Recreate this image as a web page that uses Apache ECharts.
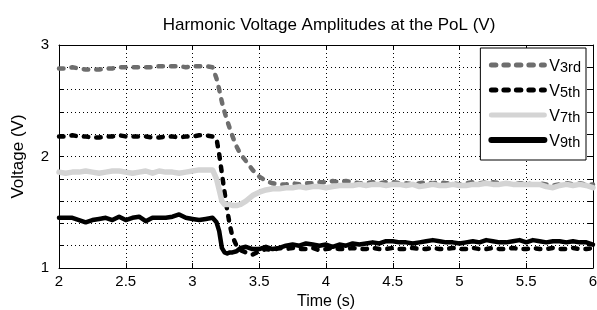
<!DOCTYPE html>
<html>
<head>
<meta charset="utf-8">
<script src="https://cdn.jsdelivr.net/npm/echarts@6/dist/echarts.min.js"></script>
<style>
html,body{margin:0;padding:0;background:#fff;}
#chart{width:597px;height:310px;}
</style>
</head>
<body>
<div id="chart"></div>
<script>
const timeS = [2.00,2.05,2.10,2.15,2.20,2.25,2.30,2.35,2.40,2.45,2.50,2.55,2.60,2.65,2.70,2.75,2.80,2.85,2.90,2.95,3.00,3.05,3.10,3.15,
  3.18,3.20,3.22,3.24,3.26,3.28,3.30,3.33,3.36,3.40,3.45,
  3.50,3.55,3.60,3.65,3.70,3.75,3.80,3.85,3.90,3.95,4.00,4.05,4.10,4.15,4.20,4.25,4.30,4.35,4.40,4.45,4.50,4.55,4.60,4.65,4.70,4.75,4.80,4.85,4.90,4.95,
  5.00,5.05,5.10,5.15,5.20,5.25,5.30,5.35,5.40,5.45,5.50,5.55,5.60,5.65,5.70,5.75,5.80,5.85,5.90,5.95,6.00];

const v3rd = [2.79,2.79,2.80,2.79,2.78,2.78,2.78,2.79,2.79,2.80,2.80,2.80,2.80,2.80,2.80,2.81,2.81,2.81,2.81,2.80,2.81,2.81,2.81,2.80,
  2.70,2.60,2.49,2.40,2.32,2.25,2.18,2.09,2.02,1.96,1.88,
  1.82,1.78,1.76,1.75,1.75,1.76,1.75,1.76,1.76,1.77,1.77,1.78,1.77,1.78,1.77,1.76,1.76,1.77,1.76,1.77,1.77,1.76,1.76,1.75,1.76,1.77,1.76,1.77,1.76,1.76,
  1.75,1.76,1.77,1.76,1.77,1.77,1.76,1.76,1.75,1.76,1.76,1.75,1.76,1.75,1.74,1.75,1.76,1.75,1.76,1.75,1.75];

const v5th = [2.18,2.18,2.19,2.18,2.18,2.17,2.17,2.18,2.18,2.19,2.18,2.18,2.18,2.18,2.17,2.17,2.18,2.18,2.17,2.18,2.18,2.19,2.19,2.18,
  2.16,2.02,1.85,1.68,1.52,1.38,1.28,1.20,1.16,1.14,1.12,
  1.15,1.17,1.16,1.18,1.17,1.18,1.17,1.17,1.18,1.16,1.17,1.18,1.17,1.17,1.18,1.17,1.17,1.18,1.17,1.17,1.18,1.17,1.17,1.18,1.17,1.17,1.18,1.17,1.17,1.18,
  1.17,1.17,1.18,1.17,1.17,1.18,1.17,1.17,1.18,1.17,1.17,1.18,1.17,1.17,1.18,1.17,1.17,1.18,1.17,1.17,1.18];

const v7th = [1.86,1.85,1.86,1.86,1.87,1.86,1.85,1.86,1.87,1.87,1.86,1.85,1.86,1.87,1.85,1.87,1.86,1.86,1.85,1.86,1.87,1.88,1.88,1.88,
  1.80,1.70,1.60,1.57,1.57,1.57,1.56,1.56,1.57,1.60,1.65,
  1.68,1.70,1.71,1.71,1.72,1.72,1.73,1.72,1.73,1.73,1.72,1.73,1.74,1.74,1.74,1.75,1.74,1.75,1.75,1.74,1.75,1.75,1.74,1.75,1.73,1.74,1.75,1.74,1.74,1.75,
  1.74,1.74,1.75,1.75,1.76,1.75,1.75,1.76,1.75,1.75,1.75,1.75,1.75,1.73,1.72,1.74,1.75,1.74,1.75,1.74,1.72];

const v9th = [1.45,1.45,1.45,1.43,1.41,1.43,1.44,1.45,1.43,1.46,1.43,1.45,1.46,1.42,1.45,1.45,1.45,1.46,1.48,1.45,1.44,1.43,1.44,1.45,
  1.41,1.33,1.18,1.14,1.13,1.14,1.14,1.15,1.18,1.19,1.17,
  1.17,1.19,1.17,1.18,1.20,1.21,1.20,1.22,1.21,1.20,1.21,1.19,1.21,1.20,1.22,1.21,1.22,1.23,1.22,1.24,1.24,1.23,1.23,1.22,1.23,1.24,1.25,1.24,1.23,1.23,
  1.22,1.23,1.24,1.23,1.25,1.24,1.23,1.23,1.24,1.25,1.23,1.25,1.24,1.23,1.24,1.24,1.23,1.24,1.23,1.23,1.21];

const seriesNames = ['V3rd','V5th','V7th','V9th'];
const seriesSubs = ['3rd','5th','7th','9th'];
const xTicks = [2,2.5,3,3.5,4,4.5,5,5.5,6];
const yLabels = [1,2,3];

const FONT = 'Liberation Sans, Arial, Helvetica, sans-serif';
const chart = echarts.init(document.getElementById('chart'), null, {renderer:'canvas'});

function pairs(vals){ return timeS.map((t,i)=>[t, vals[i]]); }

const styles = [
  {color:'#6e6e6e', width:4.5, type:[4.5,8], legendWidth:5},
  {color:'#000000', width:4.5, type:[4.5,8], legendWidth:5},
  {color:'#d4d4d4', width:5.5, type:'solid', legendWidth:5},
  {color:'#000000', width:4.5, type:'solid', legendWidth:6}
];
const allVals = [v3rd, v5th, v7th, v9th];

const series = seriesNames.map((n,i)=>({
  name:n, type:'line', symbol:'none', showSymbol:false,
  data: pairs(allVals[i]),
  lineStyle:{color:styles[i].color, width:styles[i].width, type:styles[i].type, cap:'round', join:'round'},
  itemStyle:{color:styles[i].color},
  animation:false
}));

const gridTicks = {show:true, inside:true, length:5, lineStyle:{color:'#000', width:1}};
const dotted = {show:true, lineStyle:{color:'#000', width:1, type:[1,3]}};

chart.setOption({
  backgroundColor:'#fff',
  animation:false,
  title:{
    text:'Harmonic Voltage Amplitudes at the PoL (V)',
    left:324, top:12, textAlign:'center',
    textStyle:{fontFamily:FONT, fontSize:17, fontWeight:'normal', color:'#000'}
  },
  grid:{left:59, right:4, top:45, bottom:42, containLabel:false, outerBoundsMode:'none'},
  legend:{
    orient:'vertical', right:11, top:48,
    data: seriesNames.map((n,i)=>({
      name:n,
      itemStyle:{opacity:0},
      lineStyle:{color:styles[i].color, width:styles[i].legendWidth, type:styles[i].type, cap:'round', opacity:1}
    })),
    itemWidth:53, itemHeight:14, itemGap:9,
    padding:[11,5,10,8],
    backgroundColor:'#fff', borderColor:'#000', borderWidth:1, borderRadius:0,
    formatter: name => '{v|V}{s|' + seriesSubs[seriesNames.indexOf(name)] + '}',
    textStyle:{
      fontFamily:FONT, color:'#000',
      rich:{
        v:{fontSize:16, fontFamily:FONT, color:'#000', verticalAlign:'bottom', lineHeight:20},
        s:{fontSize:14.5, fontFamily:FONT, color:'#000', verticalAlign:'bottom', lineHeight:10}
      }
    }
  },
  xAxis:[
    {type:'value', min:2, max:6, interval:0.5, position:'bottom',
     name:'Time (s)', nameLocation:'middle', nameGap:23,
     nameTextStyle:{fontFamily:FONT, fontSize:16, color:'#000'},
     axisLine:{show:true, onZero:false, lineStyle:{color:'#000', width:1}},
     axisTick:gridTicks,
     axisLabel:{fontFamily:FONT, fontSize:15, color:'#000', margin:6,
       formatter: v => xTicks.some(t=>Math.abs(t-v)<1e-6) ? String(v) : ''},
     splitLine:dotted},
    {type:'value', min:2, max:6, interval:0.5, position:'top',
     axisLine:{show:true, onZero:false, lineStyle:{color:'#000', width:1}},
     axisTick:gridTicks, axisLabel:{show:false}, splitLine:{show:false}}
  ],
  yAxis:[
    {type:'value', min:1, max:3, interval:0.2, position:'left',
     name:'Voltage (V)', nameLocation:'middle', nameGap:32,
     nameTextStyle:{fontFamily:FONT, fontSize:17, color:'#000'},
     axisLine:{show:true, onZero:false, lineStyle:{color:'#000', width:1}},
     axisTick:gridTicks,
     axisLabel:{fontFamily:FONT, fontSize:15, color:'#000', margin:10,
       formatter: v => { const r = Math.round(v); return (Math.abs(v-r)<1e-6 && yLabels.includes(r)) ? String(r) : ''; }},
     splitLine:dotted},
    {type:'value', min:1, max:3, interval:0.2, position:'right',
     axisLine:{show:true, onZero:false, lineStyle:{color:'#000', width:1}},
     axisTick:gridTicks, axisLabel:{show:false}, splitLine:{show:false}}
  ],
  series: series
});
</script>
</body>
</html>
